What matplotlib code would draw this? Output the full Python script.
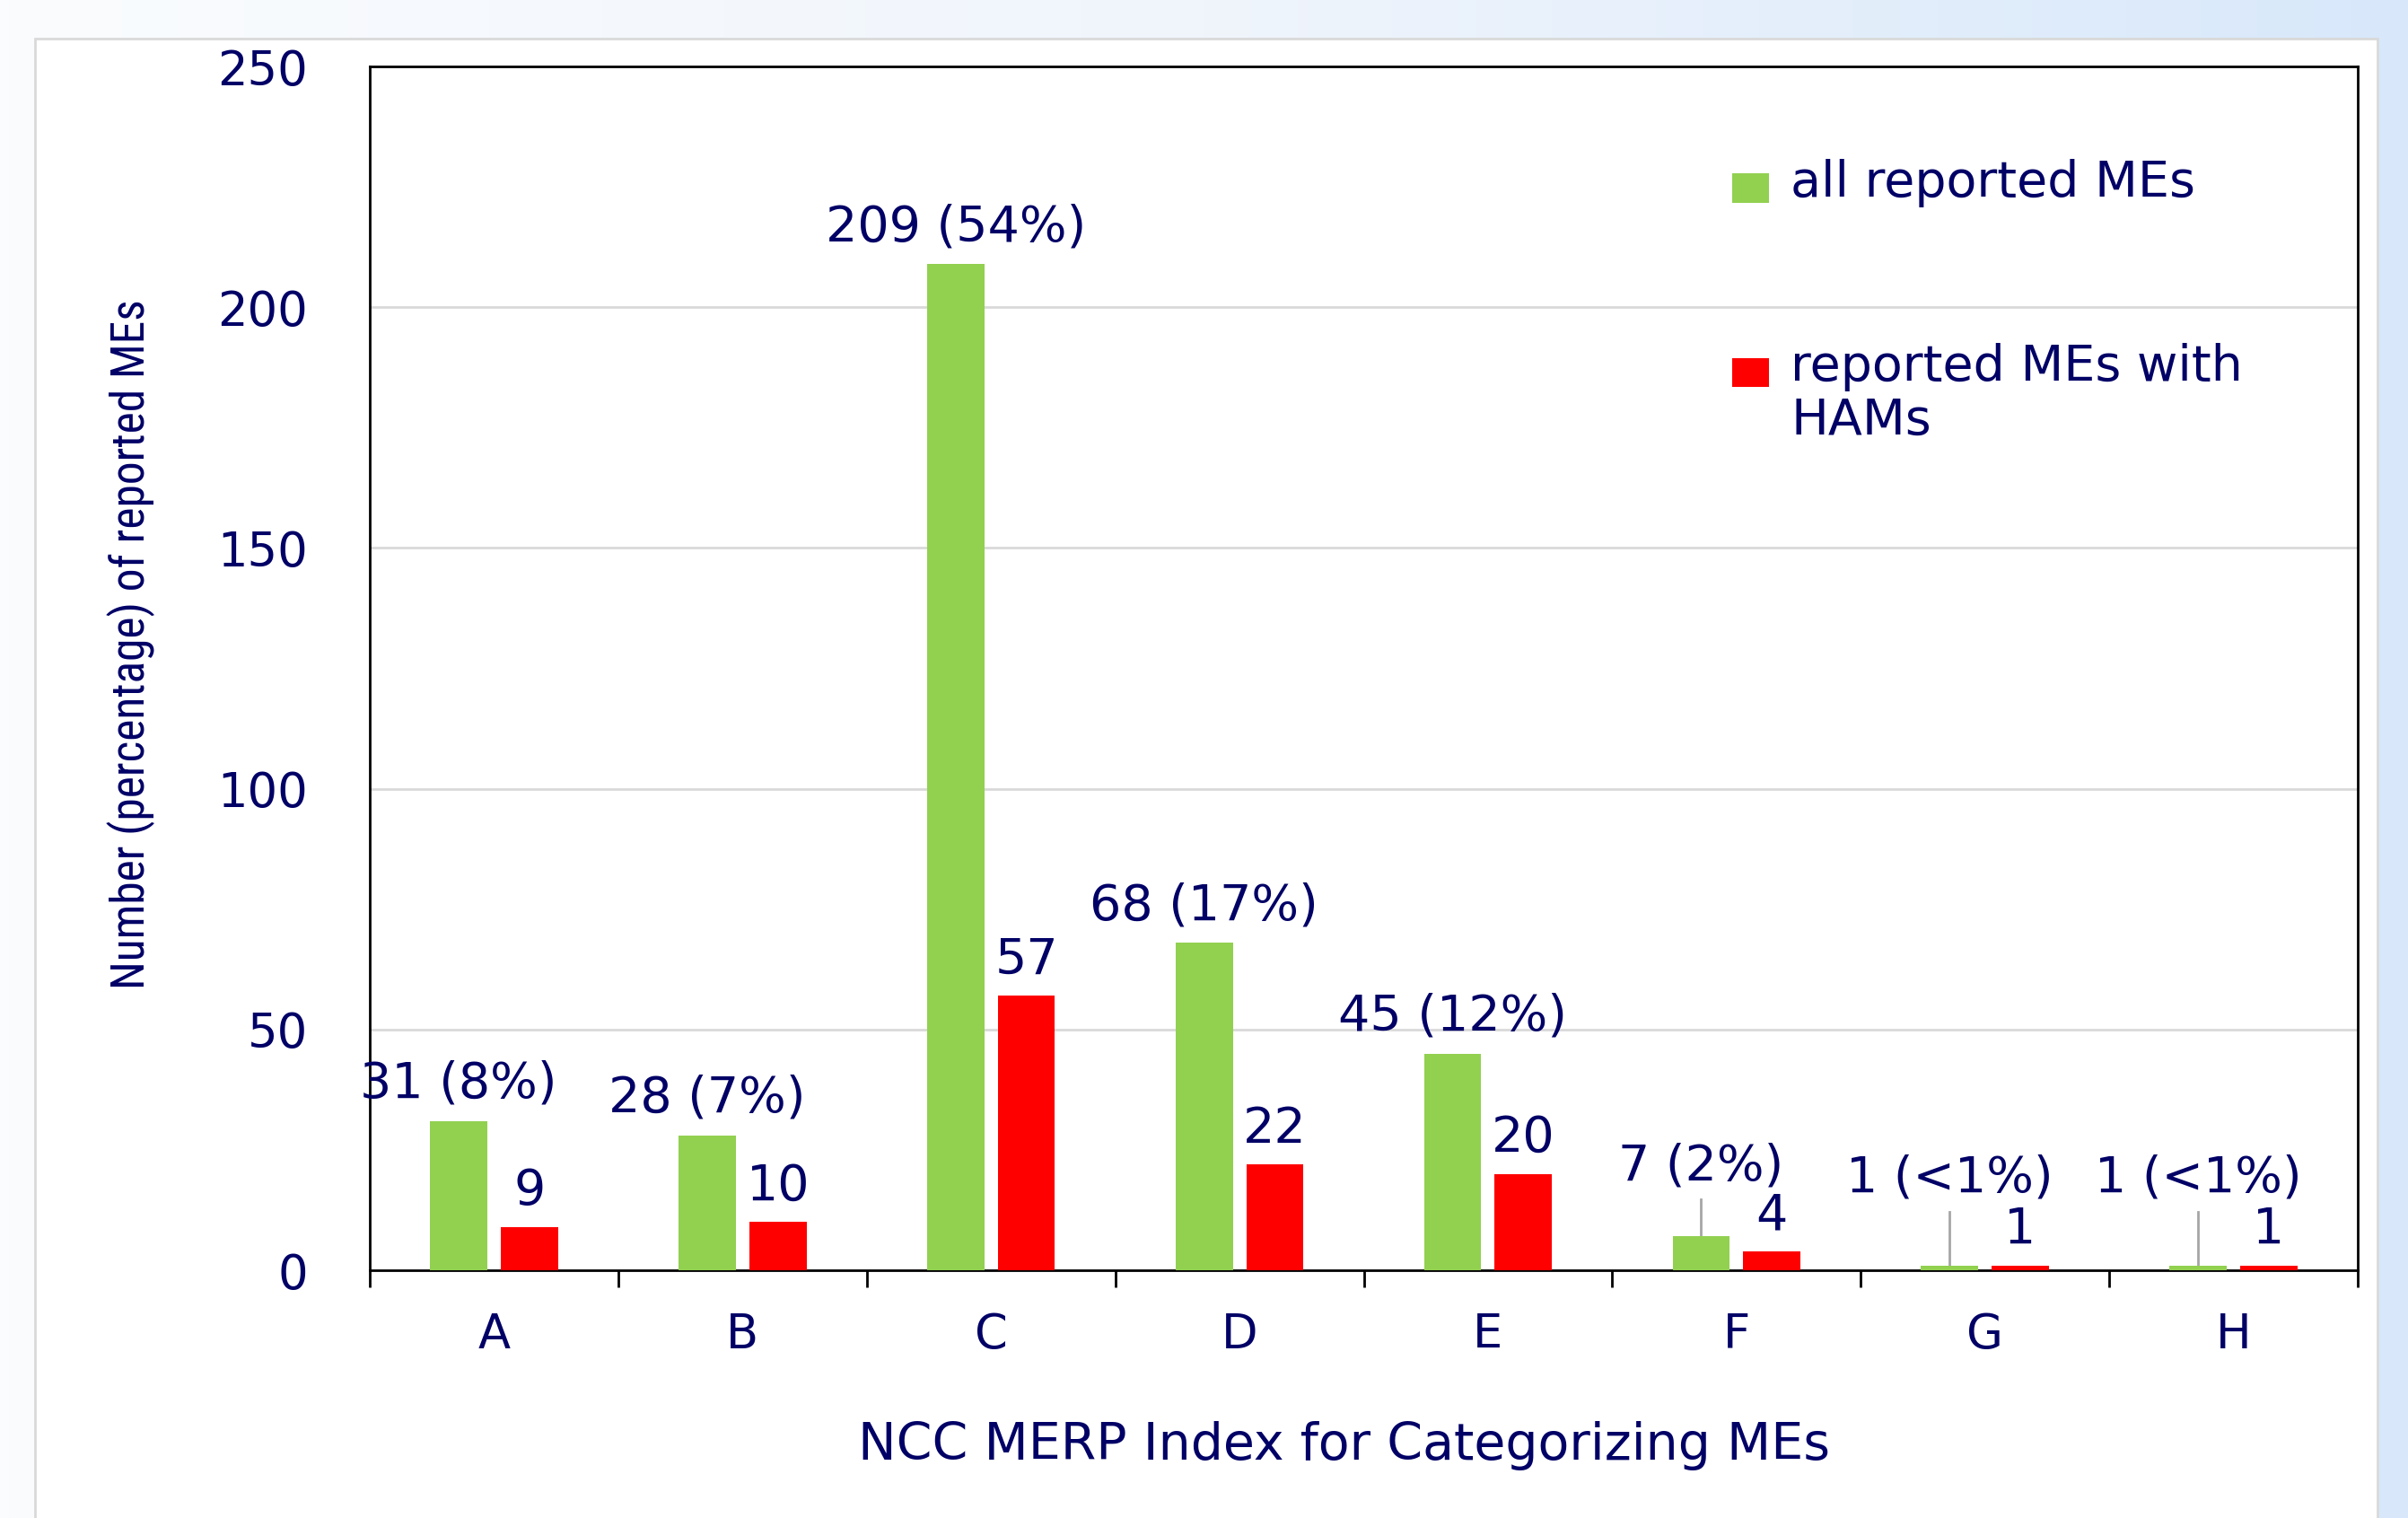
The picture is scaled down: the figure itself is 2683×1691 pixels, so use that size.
import numpy as np
import matplotlib
matplotlib.use("Agg")
import matplotlib.pyplot as plt
from matplotlib.patches import Rectangle
from matplotlib.colors import LinearSegmentedColormap
from matplotlib import font_manager

categories = ['A', 'B', 'C', 'D', 'E', 'F', 'G', 'H']
all_mes = [31, 28, 209, 68, 45, 7, 1, 1]
all_pct = ['8%', '7%', '54%', '17%', '12%', '2%', '<1%', '<1%']
ham_mes = [9, 10, 57, 22, 20, 4, 1, 1]
series_names = ['all reported MEs', 'reported MEs with\nHAMs']

navy = '#000066'
green = '#92D050'
red = '#FF0000'

# narrow font for the rotated y label, if one is around
names = {f.name for f in font_manager.fontManager.ttflist}
narrow = [n for n in ['Liberation Sans Narrow', 'DejaVu Sans Condensed', 'Roboto Condensed'] if n in names]
ylab_family = narrow[0] if narrow else 'DejaVu Sans'
ylab_size = 37 if narrow else 29

fig = plt.figure(figsize=(26.83, 16.91), dpi=100)

# background: light blue gradient with a white panel on top
bg = fig.add_axes([0, 0, 1, 1], zorder=-10)
grad = np.linspace(0, 1, 256).reshape(1, -1)
cmap = LinearSegmentedColormap.from_list('bg', ['#FAFCFE', '#F0F5FC', '#D8E8FA'])
bg.imshow(grad, aspect='auto', cmap=cmap, extent=[0, 1, 0, 1])
bg.add_patch(Rectangle((0.0145, -0.01), 0.9728, 0.9846, facecolor='white',
                       edgecolor='#D9D9D9', linewidth=2))
bg.set_xlim(0, 1)
bg.set_ylim(0, 1)
bg.axis('off')

ax = fig.add_axes([0.1536, 0.1632, 0.8255, 0.793])
x = np.arange(len(categories))
w = 0.23
off = 0.142
ax.bar(x - off, all_mes, width=w, color=green, zorder=3)
ax.bar(x + off, ham_mes, width=w, color=red, zorder=3)

ax.set_xlim(-0.5, len(categories) - 0.5)
ax.set_ylim(0, 250)
ax.set_yticks(range(0, 251, 50))
ax.grid(axis='y', color='#D9D9D9', linewidth=2, zorder=0)
for s in ax.spines.values():
    s.set_linewidth(2)
    s.set_color('black')

ax.set_xticks(x)
ax.set_xticklabels(categories)
ax.set_xticks(np.arange(-0.5, len(categories)), minor=True)
ax.tick_params(axis='x', which='major', length=0, pad=33, labelsize=38, labelcolor=navy)
ax.tick_params(axis='x', which='minor', length=14, width=2, direction='out')
ax.tick_params(axis='y', length=0, pad=50, labelsize=38, labelcolor=navy)

ax.set_xlabel('NCC MERP Index for Categorizing MEs', fontsize=41, color=navy)
ax.xaxis.set_label_coords(0.49, -0.125)
ax.set_ylabel('Number (percentage) of reported MEs', fontsize=ylab_size, color=navy,
              family=ylab_family)
ax.yaxis.set_label_coords(-0.108, 0.52)

# value labels
for i in range(len(categories)):
    v = all_mes[i]
    txt = f'{v} ({all_pct[i]})'
    if v < 10:
        ly = max(v + 9.5, 14)
        ax.plot([x[i] - off, x[i] - off], [v, ly - 1.8], color='#A6A6A6', lw=2, zorder=2)
        ax.text(x[i] - off, ly, txt, ha='center', va='bottom', fontsize=40, color=navy)
    else:
        ax.annotate(txt, (x[i] - off, v), xytext=(0, 10), textcoords='offset points',
                    ha='center', va='bottom', fontsize=40, color=navy)
    ax.annotate(str(ham_mes[i]), (x[i] + off, ham_mes[i]), xytext=(0, 9),
                textcoords='offset points', ha='center', va='bottom', fontsize=40, color=navy)

# legend drawn by hand
leg_y = [0.899, 0.746]
for name, col, yy in zip(series_names, [green, red], leg_y):
    ax.add_patch(Rectangle((0.6855, yy - 0.012), 0.0185, 0.024, transform=ax.transAxes,
                           facecolor=col, edgecolor='none', clip_on=False))
    ax.text(0.7148, yy + 0.024, name, transform=ax.transAxes, ha='left', va='top',
            fontsize=40, color=navy, linespacing=1.12)

fig.savefig('out.png', dpi=100)
